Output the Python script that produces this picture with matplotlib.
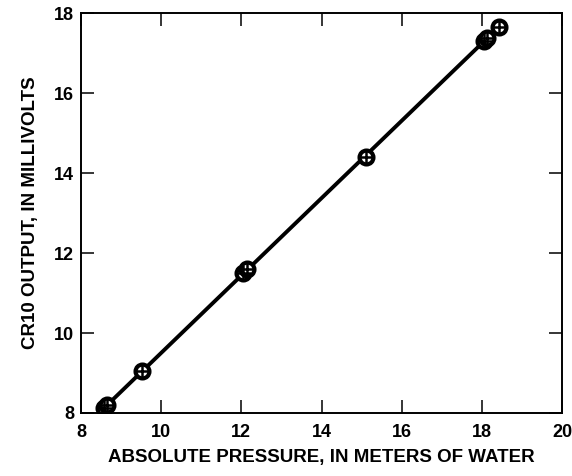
import numpy as np
import matplotlib
matplotlib.use("Agg")
import matplotlib.pyplot as plt

plt.rcParams['font.family'] = ['Liberation Sans', 'DejaVu Sans']

# measured points: absolute pressure (m of water) vs CR10 output (mV)
pressure = [8.58, 8.66, 9.52, 12.05, 12.15, 15.1, 18.05, 18.12, 18.42]
output = [8.13, 8.2, 9.04, 11.5, 11.6, 14.4, 17.3, 17.37, 17.65]

# fitted line end points
fit_x = [8.52, 18.42]
fit_y = [8.07, 17.65]

fig = plt.figure(figsize=(5.72, 4.76), dpi=100)
ax = fig.add_axes([0.1416, 0.1324, 0.841, 0.840])

ax.plot(fit_x, fit_y, color='black', lw=2.8, solid_capstyle='round')
ax.plot(pressure, output, 'o', ms=10, mfc='white', mec='black', mew=3.0)
ax.plot(pressure, output, '+', ms=12, color='black', mew=1.8)

ax.set_xlim(8, 20)
ax.set_ylim(8, 18)
ax.set_xticks(range(8, 21, 2))
ax.set_yticks(range(8, 19, 2))
ax.tick_params(direction='in', length=9.5, width=1.1, top=True, right=True,
               labelsize=13, pad=5)
ax.tick_params(axis='x', pad=8)
for lbl in ax.get_xticklabels() + ax.get_yticklabels():
    lbl.set_fontweight('bold')
for s in ax.spines.values():
    s.set_linewidth(1.4)

ax.set_xlabel('ABSOLUTE PRESSURE, IN METERS OF WATER', fontsize=13.5,
              fontweight='bold', labelpad=6)
ax.set_ylabel('CR10 OUTPUT, IN MILLIVOLTS', fontsize=13.5,
              fontweight='bold', labelpad=11)

fig.savefig('out.png', dpi=100)
